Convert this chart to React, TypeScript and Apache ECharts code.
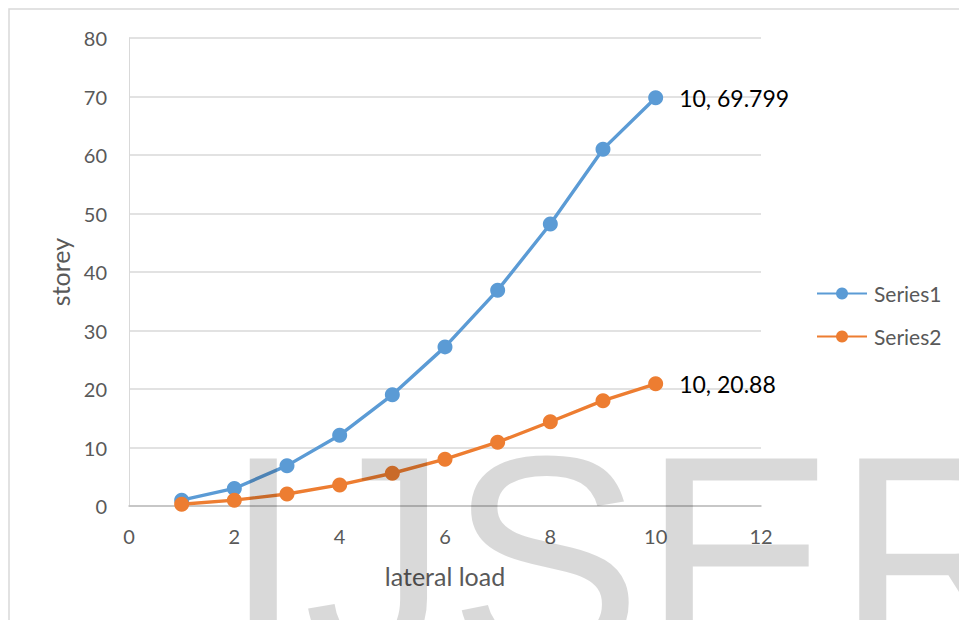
import React, { useEffect, useRef } from "react";
import * as echarts from "echarts";

const xValues = [1, 2, 3, 4, 5, 6, 7, 8, 9, 10];
const series1Values = [1.0, 3.0, 6.9, 12.1, 19.0, 27.2, 36.9, 48.2, 61.0, 69.799];
const series2Values = [0.3, 1.0, 2.05, 3.6, 5.6, 8.0, 10.9, 14.4, 18.0, 20.88];
const seriesNames = ["Series1", "Series2"];
const xAxisTitle = "lateral load";
const yAxisTitle = "storey";
const watermarkText = "IJSER";

const FONT = "Lato, 'Open Sans', sans-serif";

function buildData(vals: number[]) {
  return vals.map((v, i) => {
    const isLast = i === vals.length - 1;
    return {
      value: [xValues[i], v],
      label: {
        show: isLast,
        position: "right",
        distance: 16,
        formatter: `${xValues[i]}, ${v}`,
        color: "#000000",
        fontSize: 23,
        fontFamily: FONT,
      },
    };
  });
}

export default function App() {
  const ref = useRef<HTMLDivElement>(null);
  useEffect(() => {
    document.body.style.margin = "0";
    if (!ref.current) return;
    const chart = echarts.init(ref.current, undefined, { renderer: "svg" });
    chart.setOption({
      animation: false,
      backgroundColor: "#ffffff",
      textStyle: { fontFamily: FONT },
      grid: { left: 129, right: 198, top: 38, bottom: 114, containLabel: false },
      legend: {
        orient: "vertical",
        left: 811,
        top: 278,
        itemWidth: 50,
        itemHeight: 15,
        itemGap: 22,
        textStyle: { color: "#595959", fontSize: 21, fontFamily: FONT, padding: [0, 0, 0, 2] },
        data: seriesNames,
      },
      xAxis: {
        type: "value",
        min: 0,
        max: 12,
        interval: 2,
        name: xAxisTitle,
        nameLocation: "middle",
        nameGap: 57,
        nameTextStyle: { color: "#595959", fontSize: 25, fontFamily: FONT },
        axisLine: { show: true, lineStyle: { color: "#bfbfbf", width: 1.5 } },
        axisTick: { show: false },
        axisLabel: { color: "#595959", fontSize: 20, margin: 20, fontFamily: FONT },
        splitLine: { show: false },
      },
      yAxis: {
        type: "value",
        min: 0,
        max: 80,
        interval: 10,
        name: yAxisTitle,
        nameLocation: "middle",
        nameGap: 56,
        nameRotate: 90,
        nameTextStyle: { color: "#595959", fontSize: 25, fontFamily: FONT },
        axisLine: { show: true, lineStyle: { color: "#d9d9d9", width: 1 } },
        axisTick: { show: false },
        axisLabel: { color: "#595959", fontSize: 20, margin: 22, fontFamily: FONT },
        splitLine: { show: true, lineStyle: { color: "#d9d9d9", width: 1.5 } },
      },
      series: [
        {
          name: seriesNames[0],
          type: "line",
          data: buildData(series1Values),
          symbol: "circle",
          symbolSize: 15,
          lineStyle: { color: "#5B9BD5", width: 3.4 },
          itemStyle: { color: "#5B9BD5" },
          z: 3,
        },
        {
          name: seriesNames[1],
          type: "line",
          data: buildData(series2Values),
          symbol: "circle",
          symbolSize: 15,
          lineStyle: { color: "#ED7D31", width: 3.4 },
          itemStyle: { color: "#ED7D31" },
          z: 4,
        },
      ],
      graphic: [
        {
          type: "rect",
          shape: { x: 9, y: 9, width: 1200, height: 900 },
          style: { fill: "none", stroke: "#d9d9d9", lineWidth: 1.5 },
          silent: true,
          z: -10,
        },
        {
          type: "text",
          x: 223,
          y: 557,
          silent: true,
          z: 100,
          style: {
            text: watermarkText,
            font: "290px 'Liberation Sans', Arial, sans-serif",
            fill: "rgba(0,0,0,0.15)",
            textAlign: "left",
            textVerticalAlign: "middle",
          },
        },
      ],
    });
    return () => chart.dispose();
  }, []);
  return <div ref={ref} style={{ width: 959, height: 620 }} />;
}
